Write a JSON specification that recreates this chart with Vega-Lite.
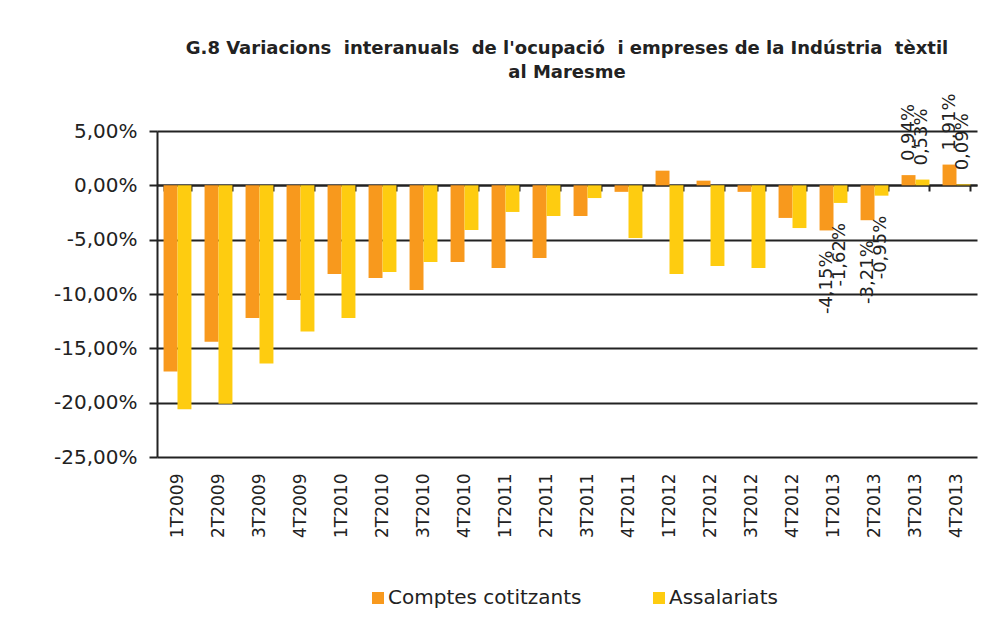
{
  "$schema": "https://vega.github.io/schema/vega-lite/v6.json",
  "width": 820,
  "height": 326,
  "autosize": "none",
  "padding": {"left": 157, "top": 131, "right": 17, "bottom": 169},
  "background": "white",
  "config": {
    "locale": {"number": {"decimal": ",", "thousands": ".", "grouping": [3], "currency": ["", " €"], "minus": "-"}},
    "font": "DejaVu Sans",
    "view": {"stroke": null},
    "axis": {"labelFont": "DejaVu Sans", "labelColor": "#222222"}
  },
  "title": {
    "text": ["G.8 Variacions\u00a0 interanuals\u00a0 de l'ocupació\u00a0 i empreses de la Indústria\u00a0 tèxtil", "al Maresme"],
    "font": "DejaVu Sans",
    "fontWeight": "bold",
    "fontSize": 18,
    "lineHeight": 23.5,
    "color": "#222222",
    "anchor": "middle",
    "baseline": "alphabetic",
    "offset": -2.5
  },
  "data": {
    "values": [
      {"period": "1T2009", "series": "Comptes cotitzants", "value": -0.1714},
      {"period": "1T2009", "series": "Assalariats", "value": -0.2060},
      {"period": "2T2009", "series": "Comptes cotitzants", "value": -0.1440},
      {"period": "2T2009", "series": "Assalariats", "value": -0.2010},
      {"period": "3T2009", "series": "Comptes cotitzants", "value": -0.1220},
      {"period": "3T2009", "series": "Assalariats", "value": -0.1640},
      {"period": "4T2009", "series": "Comptes cotitzants", "value": -0.1055},
      {"period": "4T2009", "series": "Assalariats", "value": -0.1346},
      {"period": "1T2010", "series": "Comptes cotitzants", "value": -0.0816},
      {"period": "1T2010", "series": "Assalariats", "value": -0.1220},
      {"period": "2T2010", "series": "Comptes cotitzants", "value": -0.0853},
      {"period": "2T2010", "series": "Assalariats", "value": -0.0797},
      {"period": "3T2010", "series": "Comptes cotitzants", "value": -0.0963},
      {"period": "3T2010", "series": "Assalariats", "value": -0.0705},
      {"period": "4T2010", "series": "Comptes cotitzants", "value": -0.0705},
      {"period": "4T2010", "series": "Assalariats", "value": -0.0411},
      {"period": "1T2011", "series": "Comptes cotitzants", "value": -0.0760},
      {"period": "1T2011", "series": "Assalariats", "value": -0.0245},
      {"period": "2T2011", "series": "Comptes cotitzants", "value": -0.0668},
      {"period": "2T2011", "series": "Assalariats", "value": -0.0282},
      {"period": "3T2011", "series": "Comptes cotitzants", "value": -0.0282},
      {"period": "3T2011", "series": "Assalariats", "value": -0.0117},
      {"period": "4T2011", "series": "Comptes cotitzants", "value": -0.0060},
      {"period": "4T2011", "series": "Assalariats", "value": -0.0485},
      {"period": "1T2012", "series": "Comptes cotitzants", "value": 0.0135},
      {"period": "1T2012", "series": "Assalariats", "value": -0.0816},
      {"period": "2T2012", "series": "Comptes cotitzants", "value": 0.0043},
      {"period": "2T2012", "series": "Assalariats", "value": -0.0742},
      {"period": "3T2012", "series": "Comptes cotitzants", "value": -0.0060},
      {"period": "3T2012", "series": "Assalariats", "value": -0.0760},
      {"period": "4T2012", "series": "Comptes cotitzants", "value": -0.0300},
      {"period": "4T2012", "series": "Assalariats", "value": -0.0393},
      {"period": "1T2013", "series": "Comptes cotitzants", "value": -0.0415},
      {"period": "1T2013", "series": "Assalariats", "value": -0.0162},
      {"period": "2T2013", "series": "Comptes cotitzants", "value": -0.0321},
      {"period": "2T2013", "series": "Assalariats", "value": -0.0095},
      {"period": "3T2013", "series": "Comptes cotitzants", "value": 0.0094},
      {"period": "3T2013", "series": "Assalariats", "value": 0.0053},
      {"period": "4T2013", "series": "Comptes cotitzants", "value": 0.0191},
      {"period": "4T2013", "series": "Assalariats", "value": 0.0009}
    ]
  },
  "encoding": {
    "xOffset": {
      "field": "series",
      "type": "nominal",
      "sort": ["Comptes cotitzants", "Assalariats"],
      "scale": {"paddingInner": 0, "paddingOuter": 0}
    },
    "y": {
      "field": "value",
      "type": "quantitative",
      "scale": {"domain": [-0.25, 0.05], "nice": false, "zero": false},
      "axis": {
        "title": null,
        "values": [-0.25, -0.2, -0.15, -0.1, -0.05, 0, 0.05],
        "format": ".2%",
        "labelFontSize": 20,
        "labelPadding": 12,
        "tickSize": 8,
        "tickWidth": 2,
        "tickColor": "#222222",
        "domainColor": "#222222",
        "domainWidth": 2,
        "grid": true,
        "gridColor": "#222222",
        "gridWidth": 2
      }
    }
  },
  "layer": [
    {
      "mark": {"type": "bar"},
      "encoding": {
        "x": {
          "field": "period",
          "type": "nominal",
          "sort": null,
          "scale": {"paddingInner": 0.32, "paddingOuter": 0.16},
          "axis": {
            "title": null,
            "labelAngle": 270,
            "labelFontSize": 17,
            "labelPadding": 16,
            "ticks": false,
            "domain": false,
            "labelAlign": "right",
            "labelBaseline": "middle"
          }
        },
        "color": {
          "field": "series",
          "type": "nominal",
          "scale": {"domain": ["Comptes cotitzants", "Assalariats"], "range": ["#F8991D", "#FECC10"]},
          "legend": {
            "title": null,
            "orient": "none",
            "legendX": 211,
            "legendY": 457,
            "direction": "horizontal",
            "symbolType": "square",
            "symbolSize": 144,
            "symbolStrokeWidth": 0,
            "labelFontSize": 20,
            "labelFont": "DejaVu Sans",
            "labelColor": "#222222",
            "labelLimit": 400,
            "labelOffset": 0,
            "columnPadding": 67
          }
        }
      }
    },
    {
      "transform": [{"filter": "indexof(['1T2013','2T2013','3T2013','4T2013'], datum.period) >= 0 && datum.value < 0"}],
      "mark": {"type": "text", "angle": 270, "align": "right", "baseline": "middle", "dx": -20, "fontSize": 18, "font": "DejaVu Sans", "color": "#222222"},
      "encoding": {
        "x": {
          "field": "period",
          "type": "nominal",
          "sort": null,
          "axis": {
            "title": null,
            "labels": false,
            "orient": "bottom",
            "offset": -272,
            "tickBand": "extent",
            "tickSize": 6,
            "tickWidth": 2,
            "tickColor": "#222222",
            "domain": true,
            "domainColor": "#222222",
            "domainWidth": 2,
            "grid": false
          }
        },
        "text": {"field": "value", "type": "quantitative", "format": ".2%"}
      }
    },
    {
      "transform": [{"filter": "indexof(['1T2013','2T2013','3T2013','4T2013'], datum.period) >= 0 && datum.value >= 0"}],
      "mark": {"type": "text", "angle": 270, "align": "left", "baseline": "middle", "dx": 14, "fontSize": 18, "font": "DejaVu Sans", "color": "#222222"},
      "encoding": {
        "x": {"field": "period", "type": "nominal", "sort": null, "axis": null},
        "text": {"field": "value", "type": "quantitative", "format": ".2%"}
      }
    }
  ],
  "resolve": {"axis": {"x": "independent"}}
}
